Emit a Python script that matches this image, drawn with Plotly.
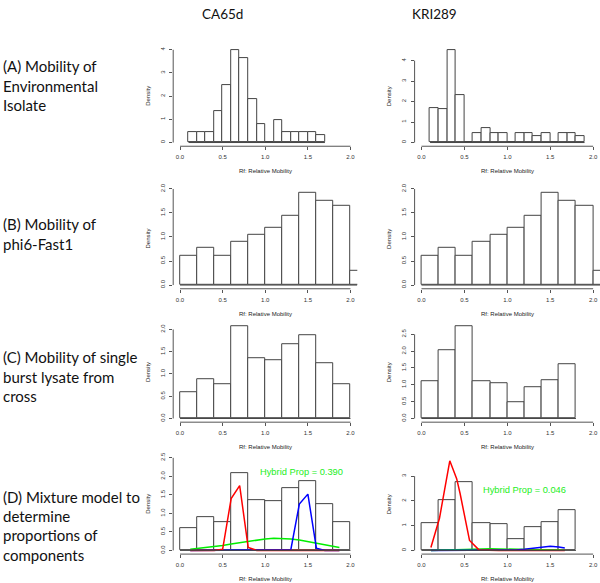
import plotly.graph_objects as go

W, H = 600, 583

# ---------------- data ----------------
COLUMNS = ["CA65d", "KRI289"]
ROW_LABELS = [
    ["(A) Mobility of", "Environmental", "Isolate"],
    ["(B) Mobility of", "phi6-Fast1"],
    ["(C) Mobility of single", "burst lysate from", "cross"],
    ["(D) Mixture model to", "determine", "proportions of", "components"],
]
X_TICKS = [0.0, 0.5, 1.0, 1.5, 2.0]
X_TICK_TEXT = ["0.0", "0.5", "1.0", "1.5", "2.0"]
X_TITLE = "Rf: Relative Mobility"
Y_TITLE = "Density"

# (A) environmental isolate
A_CA65D_BREAKS = [0.1, 0.2, 0.3, 0.4, 0.5, 0.6, 0.7, 0.8, 0.9, 1.0, 1.1, 1.2, 1.3, 1.4, 1.5, 1.6, 1.7]
A_CA65D_DENSITY = [0.47, 0.47, 0.47, 1.34, 2.46, 4.0, 3.64, 1.86, 0.78, 0.0, 0.95, 0.47, 0.47, 0.47, 0.47, 0.33]
A_KRI289_BREAKS = [0.1, 0.2, 0.3, 0.4, 0.5, 0.6, 0.7, 0.8, 0.9, 1.0, 1.1, 1.2, 1.3, 1.4, 1.5, 1.6, 1.7, 1.8, 1.9]
A_KRI289_DENSITY = [1.69, 1.61, 4.53, 2.31, 0.0, 0.47, 0.69, 0.47, 0.47, 0.0, 0.47, 0.47, 0.31, 0.47, 0.0, 0.47, 0.47, 0.31]

# (B) phi6-Fast1 (same in both columns)
B_BREAKS = [0.0, 0.2, 0.4, 0.6, 0.8, 1.0, 1.2, 1.4, 1.6, 1.8, 2.0, 2.2]
B_DENSITY = [0.605, 0.776, 0.605, 0.898, 1.04, 1.197, 1.45, 1.92, 1.75, 1.646, 0.306]

# (C) single burst lysate
C_CA65D_BREAKS = [0.0, 0.2, 0.4, 0.6, 0.8, 1.0, 1.2, 1.4, 1.6, 1.8, 2.0]
C_CA65D_DENSITY = [0.6, 0.89, 0.77, 2.08, 1.35, 1.32, 1.67, 1.88, 1.25, 0.77]
C_KRI289_BREAKS = [0.0, 0.2, 0.4, 0.6, 0.8, 1.0, 1.2, 1.4, 1.6, 1.8]
C_KRI289_DENSITY = [1.10, 2.04, 2.75, 1.10, 1.06, 0.47, 0.94, 1.14, 1.62]

# (D) mixture model components
D_CA65D_X = [0.12, 0.2, 0.3, 0.4, 0.5, 0.6, 0.7, 0.8, 0.9, 1.0, 1.1, 1.2, 1.3, 1.4, 1.5, 1.6, 1.7, 1.8, 1.87]
D_CA65D_RED = [0, 0, 0, 0, 0.03, 1.40, 1.75, 0.08, 0, 0, 0, 0, 0, 0, 0, 0, 0, 0, 0]
D_CA65D_BLUE = [0, 0, 0, 0, 0, 0, 0, 0, 0, 0, 0, 0, 0.02, 1.25, 1.52, 0.06, 0, 0, 0]
D_CA65D_GREEN = [0.03, 0.05, 0.07, 0.10, 0.13, 0.17, 0.21, 0.25, 0.29, 0.31, 0.33, 0.33, 0.31, 0.28, 0.24, 0.19, 0.14, 0.10, 0.08]
D_CA65D_PROP = "Hybrid Prop = 0.390"

D_KRI289_X = [0.11, 0.21, 0.33, 0.41, 0.45, 0.56, 0.67, 0.8, 0.9, 1.0, 1.1, 1.2, 1.3, 1.4, 1.5, 1.6, 1.67]
D_KRI289_RED = [0.12, 1.3, 3.62, 2.9, 2.3, 0.4, 0.02, 0, 0, 0, 0, 0, 0, 0, 0, 0, 0]
D_KRI289_BLUE = [0, 0, 0, 0, 0, 0, 0, 0, 0, 0.01, 0.02, 0.05, 0.09, 0.14, 0.17, 0.14, 0.10]
D_KRI289_GREEN = [0.0, 0.01, 0.02, 0.03, 0.03, 0.05, 0.07, 0.07, 0.06, 0.05, 0.05, 0.04, 0.03, 0.03, 0.02, 0.02, 0.01]
D_KRI289_PROP = "Hybrid Prop = 0.046"

# y-axis ticks / nominal maxima per panel
PANELS = [
    # (breaks, density, ymax, yticks, ytext)
    (A_CA65D_BREAKS, A_CA65D_DENSITY, 4.0, [0, 1, 2, 3, 4], ["0", "1", "2", "3", "4"]),
    (A_KRI289_BREAKS, A_KRI289_DENSITY, 4.53, [0, 1, 2, 3, 4], ["0", "1", "2", "3", "4"]),
    (B_BREAKS, B_DENSITY, 1.925, [0, 0.5, 1, 1.5, 2], ["0.0", "0.5", "1.0", "1.5", "2.0"]),
    (B_BREAKS, B_DENSITY, 1.925, [0, 0.5, 1, 1.5, 2], ["0.0", "0.5", "1.0", "1.5", "2.0"]),
    (C_CA65D_BREAKS, C_CA65D_DENSITY, 2.08, [0, 0.5, 1, 1.5, 2], ["0.0", "0.5", "1.0", "1.5", "2.0"]),
    (C_KRI289_BREAKS, C_KRI289_DENSITY, 2.75, [0, 0.5, 1, 1.5, 2, 2.5], ["0.0", "0.5", "1.0", "1.5", "2.0", "2.5"]),
    (C_CA65D_BREAKS, C_CA65D_DENSITY, 2.5, [0, 0.5, 1, 1.5, 2, 2.5], ["0.0", "0.5", "1.0", "1.5", "2.0", "2.5"]),
    (C_KRI289_BREAKS, C_KRI289_DENSITY, 3.74, [0, 1, 2, 3], ["0", "1", "2", "3"]),
]

# ---------------- layout geometry (pixels) ----------------
COL_PX = [(173.2, 357.3), (414.6, 600.0)]
ROW_PX = [(40.5, 141.7), (184.7, 285.7), (319.5, 420.5), (452.8, 553.8)]


def fx(px):
    return px / W


def fy(py):
    return 1 - py / H


AX_COLOR = "#555555"
TXT = "#222222"
TICK_FONT = dict(family="Liberation Sans, Arial, sans-serif", size=6, color="#333333")
LABEL_FONT = "Lato, Calibri, sans-serif"

fig = go.Figure()
layout = dict(
    width=W, height=H, margin=dict(l=0, r=0, t=0, b=0),
    paper_bgcolor="white", plot_bgcolor="white", showlegend=False,
)
shapes, annotations = [], []

for i, (breaks, dens, ymax, yt, ytt) in enumerate(PANELS):
    r, c = divmod(i, 2)
    n = i + 1
    xa = "x" if n == 1 else f"x{n}"
    ya = "y" if n == 1 else f"y{n}"
    xk = "xaxis" if n == 1 else f"xaxis{n}"
    yk = "yaxis" if n == 1 else f"yaxis{n}"
    (cl, cr), (rt, rb) = COL_PX[c], ROW_PX[r]
    layout[xk] = dict(
        domain=[fx(cl), fx(cr)], range=[-0.08, 2.08], anchor=ya,
        tickvals=X_TICKS, ticktext=X_TICK_TEXT, ticks="outside", ticklen=3,
        tickcolor=AX_COLOR, tickwidth=1, tickfont=TICK_FONT, ticklabelstandoff=2,
        showgrid=False, zeroline=False, showline=False, fixedrange=True,
    )
    layout[yk] = dict(
        domain=[fy(rb), fy(rt)], range=[-0.04 * ymax, 1.04 * ymax], anchor=xa,
        tickvals=yt, ticktext=ytt, tickangle=-90, ticks="outside", ticklen=3,
        tickcolor=AX_COLOR, tickwidth=1, tickfont=TICK_FONT, ticklabelstandoff=2,
        showgrid=False, zeroline=False, showline=False, fixedrange=True,
    )
    centers = [(breaks[k] + breaks[k + 1]) / 2 for k in range(len(dens))]
    widths = [breaks[k + 1] - breaks[k] for k in range(len(dens))]
    fig.add_trace(go.Bar(
        x=centers, y=dens, width=widths, xaxis=xa, yaxis=ya,
        marker=dict(color="white", line=dict(color="#444444", width=1)),
        hoverinfo="skip",
    ))
    # baseline under (possibly empty) bins
    shapes.append(dict(type="line", xref=xa, yref=ya, x0=breaks[0], x1=min(breaks[-1], 2.08),
                       y0=0, y1=0, line=dict(color="#444444", width=1)))
    # R-style axis lines spanning only the tick range
    shapes.append(dict(type="line", xref=xa, yref=f"{ya} domain", x0=X_TICKS[0], x1=X_TICKS[-1],
                       y0=0, y1=0, line=dict(color=AX_COLOR, width=1)))
    shapes.append(dict(type="line", xref=f"{xa} domain", yref=ya, x0=0, x1=0,
                       y0=yt[0], y1=yt[-1], line=dict(color=AX_COLOR, width=1)))
    # axis titles
    annotations.append(dict(text=X_TITLE, xref="paper", yref="paper",
                            x=fx((cl + cr) / 2), y=fy(rb + 25.5), showarrow=False,
                            xanchor="center", yanchor="middle",
                            font=dict(family="Liberation Sans, Arial, sans-serif", size=6, color=TXT)))
    annotations.append(dict(text=Y_TITLE, xref="paper", yref="paper",
                            x=fx(cl - 25.5), y=fy((rt + rb) / 2), showarrow=False, textangle=-90,
                            xanchor="center", yanchor="middle",
                            font=dict(family="Liberation Sans, Arial, sans-serif", size=6, color=TXT)))

# mixture components (row D)
for n, xs, red, blue, green in [
    (7, D_CA65D_X, D_CA65D_RED, D_CA65D_BLUE, D_CA65D_GREEN),
    (8, D_KRI289_X, D_KRI289_RED, D_KRI289_BLUE, D_KRI289_GREEN),
]:
    for ys, col in [(green, "#00ee00"), (blue, "#0000ff"), (red, "#ff0000")]:
        fig.add_trace(go.Scatter(x=xs, y=ys, mode="lines", xaxis=f"x{n}", yaxis=f"y{n}",
                                 line=dict(color=col, width=1.5), hoverinfo="skip"))

PROP_FONT = dict(family="Liberation Sans, Arial, sans-serif", size=9.3, color="#22ee22")
annotations.append(dict(text=D_CA65D_PROP, xref="paper", yref="paper", x=fx(301.7), y=fy(470.7),
                        showarrow=False, xanchor="center", yanchor="middle", font=PROP_FONT))
annotations.append(dict(text=D_KRI289_PROP, xref="paper", yref="paper", x=fx(524.7), y=fy(489.3),
                        showarrow=False, xanchor="center", yanchor="middle", font=PROP_FONT))

# column headers
for name, cx in zip(COLUMNS, [222, 434.5]):
    annotations.append(dict(text=name, xref="paper", yref="paper", x=fx(cx), y=fy(8),
                            showarrow=False, xanchor="center", yanchor="middle",
                            font=dict(family=LABEL_FONT, size=13.5, color="#111111")))

# row labels
ROW_LINE_Y = [[61, 80.5, 100], [220.5, 240], [355, 374.5, 394], [496, 515.5, 535, 554.5]]
for lines, ys in zip(ROW_LABELS, ROW_LINE_Y):
    for txt, yy in zip(lines, ys):
        annotations.append(dict(text=txt, xref="paper", yref="paper", x=fx(0.5), y=fy(yy),
                                showarrow=False, xanchor="left", yanchor="middle",
                                font=dict(family=LABEL_FONT, size=15, color="#111111")))

layout["shapes"] = shapes
layout["annotations"] = annotations
layout["bargap"] = 0
fig.update_layout(**layout)
fig.write_html(
    "out.html",
    config={"displayModeBar": False},
    post_script="document.body.style.margin='0';document.body.style.overflow='hidden';",
)
